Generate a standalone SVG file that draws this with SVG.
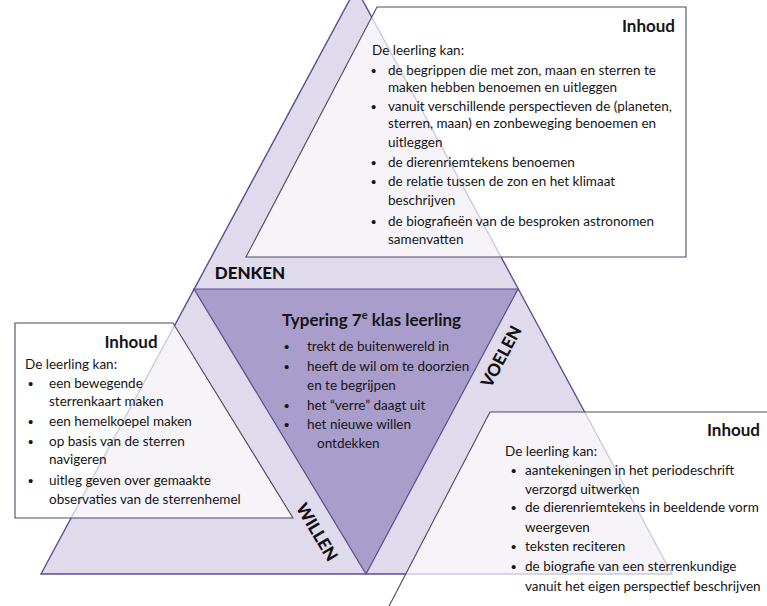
<svg xmlns="http://www.w3.org/2000/svg" width="767" height="606" viewBox="0 0 767 606">
<style>
.tri{fill:#dfdbec;stroke:#5b4e8e;stroke-width:1.4}
.inner{fill:#a99dcc;stroke:#5b4e8e;stroke-width:1.2}
.box{fill:#ffffff;fill-opacity:0.7;stroke:#4f4a5e;stroke-width:1.1}
.t{font-family:Lato,'Liberation Sans',sans-serif;font-size:13.5px;fill:#151515}
.b{font-family:'Liberation Sans',sans-serif;font-size:15px;fill:#151515}
.h{font-family:Lato,'Liberation Sans',sans-serif;font-size:17px;font-weight:bold;fill:#151515}
.lbl{font-family:Lato,'Liberation Sans',sans-serif;font-size:17px;font-weight:900;fill:#111}
</style>
<g id="big-triangle">
<polygon class="tri" points="41,574 356,-12 672,574"/>
</g>
<g id="center">
<polygon class="inner" points="194,289 518,289 366,574"/>
<text class="h" x="282" y="326">Typering 7<tspan font-size="11" dy="-7">e</tspan><tspan dy="7"> klas leerling</tspan></text>
<text class="b" x="284" y="352">•</text><text class="t" x="307" y="351">trekt de buitenwereld in</text>
<text class="b" x="284" y="372">•</text><text class="t" x="307" y="371">heeft de wil om te doorzien</text>
<text class="t" x="307" y="390">en te begrijpen</text>
<text class="b" x="284" y="411">•</text><text class="t" x="307" y="410">het “verre” daagt uit</text>
<text class="b" x="284" y="430">•</text><text class="t" x="307" y="429">het nieuwe willen</text>
<text class="t" x="317" y="448">ontdekken</text>
</g>
<g id="labels">
<text class="lbl" x="250" y="279" text-anchor="middle">DENKEN</text>
<text class="lbl" x="502" y="362" text-anchor="middle" transform="rotate(-62 502 357)">VOELEN</text>
<text class="lbl" x="317" y="538" text-anchor="middle" transform="rotate(59 317 532)">WILLEN</text>
</g>
<g id="box-denken">
<polygon class="box" points="377,7 686,7 686,257 246,257"/>
<text class="h" x="675" y="32" text-anchor="end">Inhoud</text>
<text class="t" x="372" y="55">De leerling kan:</text>
<text class="b" x="371" y="76">•</text><text class="t" x="388" y="75">de begrippen die met zon, maan en sterren te</text>
<text class="t" x="388" y="92">maken hebben benoemen en uitleggen</text>
<text class="b" x="371" y="112">•</text><text class="t" x="388" y="111">vanuit verschillende perspectieven de (planeten,</text>
<text class="t" x="388" y="128">sterren, maan) en zonbeweging benoemen en</text>
<text class="t" x="388" y="147">uitleggen</text>
<text class="b" x="371" y="168">•</text><text class="t" x="388" y="167">de dierenriemtekens benoemen</text>
<text class="b" x="371" y="187">•</text><text class="t" x="388" y="186">de relatie tussen de zon en het klimaat</text>
<text class="t" x="388" y="205">beschrijven</text>
<text class="b" x="371" y="227">•</text><text class="t" x="388" y="226">de biografieën van de besproken astronomen</text>
<text class="t" x="388" y="244">samenvatten</text>
</g>
<g id="box-willen">
<polygon class="box" points="15,323 173,323 293,518 15,518"/>
<text class="h" x="131" y="348" text-anchor="middle">Inhoud</text>
<text class="t" x="25" y="369">De leerling kan:</text>
<text class="b" x="28" y="389">•</text><text class="t" x="49" y="388">een bewegende</text>
<text class="t" x="49" y="406">sterrenkaart maken</text>
<text class="b" x="28" y="427">•</text><text class="t" x="49" y="426">een hemelkoepel maken</text>
<text class="b" x="28" y="447">•</text><text class="t" x="49" y="446">op basis van de sterren</text>
<text class="t" x="49" y="464">navigeren</text>
<text class="b" x="28" y="486">•</text><text class="t" x="49" y="485">uitleg geven over gemaakte</text>
<text class="t" x="49" y="504">observaties van de sterrenhemel</text>
</g>
<g id="box-voelen">
<polygon class="box" points="490,412 775,412 775,612 386,612"/>
<text class="h" x="760" y="436" text-anchor="end">Inhoud</text>
<text class="t" x="505" y="456">De leerling kan:</text>
<text class="b" x="511" y="476">•</text><text class="t" x="525" y="475">aantekeningen in het periodeschrift</text>
<text class="t" x="525" y="494">verzorgd uitwerken</text>
<text class="b" x="511" y="513">•</text><text class="t" x="525" y="512">de dierenriemtekens in beeldende vorm</text>
<text class="t" x="525" y="532">weergeven</text>
<text class="b" x="511" y="552">•</text><text class="t" x="525" y="551">teksten reciteren</text>
<text class="b" x="511" y="572">•</text><text class="t" x="525" y="571">de biografie van een sterrenkundige</text>
<text class="t" x="525" y="591">vanuit het eigen perspectief beschrijven</text>
</g>
</svg>
